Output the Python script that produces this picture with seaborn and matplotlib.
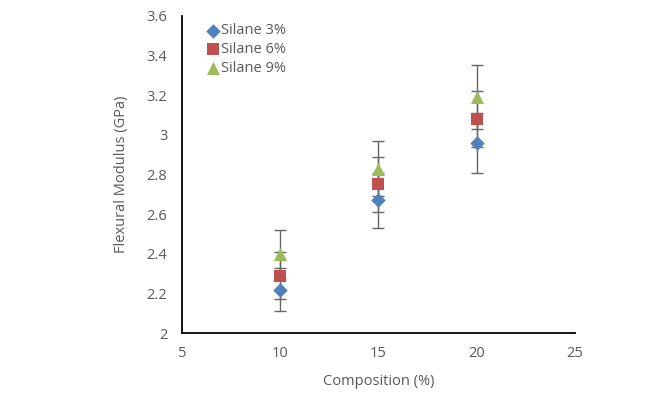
import numpy as np
import pandas as pd
import seaborn as sns
import matplotlib.pyplot as plt

composition = [10, 15, 20]
series_names = ["Silane 3%", "Silane 6%", "Silane 9%"]
silane3 = [2.22, 2.67, 2.96]
silane6 = [2.29, 2.75, 3.08]
silane9 = [2.40, 2.83, 3.19]
err3 = [0.11, 0.14, 0.15]
err6 = [0.12, 0.14, 0.14]
err9 = [0.12, 0.14, 0.16]

colors = ["#4F81BD", "#C0504D", "#9BBB59"]
markers = ["D", "s", "^"]
sizes = [55, 85, 90]

df = pd.DataFrame({
    "Composition": composition * 3,
    "Modulus": silane3 + silane6 + silane9,
    "err": err3 + err6 + err9,
    "Series": [s for s in series_names for _ in composition],
})

sns.set_style("white")
plt.rcParams['font.family'] = ['Open Sans', 'DejaVu Sans']
text_col = "#595959"

fig = plt.figure(figsize=(6.57, 3.98), dpi=100)
ax = fig.add_axes([0.277, 0.163, 0.598, 0.797])

# error bars first so markers sit on top
for name in series_names:
    d = df[df.Series == name]
    ax.errorbar(d.Composition, d.Modulus, yerr=d.err, fmt="none",
                ecolor="#666666", elinewidth=1.0, capsize=4, capthick=1.0, zorder=2)

for name, c, m, s in zip(series_names, colors, markers, sizes):
    d = df[df.Series == name]
    sns.scatterplot(data=d, x="Composition", y="Modulus", ax=ax, color=c,
                    marker=m, s=s, linewidth=0, label=name, zorder=3)

ax.set_xlim(5, 25)
ax.set_ylim(2, 3.6)
ax.set_xticks([5, 10, 15, 20, 25])
ax.set_yticks(np.arange(2, 3.61, 0.2))
ax.set_yticklabels(["2", "2.2", "2.4", "2.6", "2.8", "3", "3.2", "3.4", "3.6"])
ax.tick_params(length=0, labelsize=10.5, colors=text_col)
ax.tick_params(axis="x", pad=9.5)
ax.tick_params(axis="y", pad=10.5)
ax.set_xlabel("Composition (%)", fontsize=10.5, color=text_col, labelpad=9)
ax.set_ylabel("Flexural Modulus (GPa)", fontsize=10.5, color=text_col, labelpad=13)

for side in ["top", "right"]:
    ax.spines[side].set_visible(False)
for side in ["left", "bottom"]:
    ax.spines[side].set_color("black")
    ax.spines[side].set_linewidth(1.3)

leg = ax.legend(loc="upper left", bbox_to_anchor=(0.045, 0.995), frameon=False,
                fontsize=10.5, handletextpad=0.05, labelspacing=0.25,
                borderaxespad=0, handlelength=1.0)
for t in leg.get_texts():
    t.set_color(text_col)

fig.savefig("out.png", dpi=100)
